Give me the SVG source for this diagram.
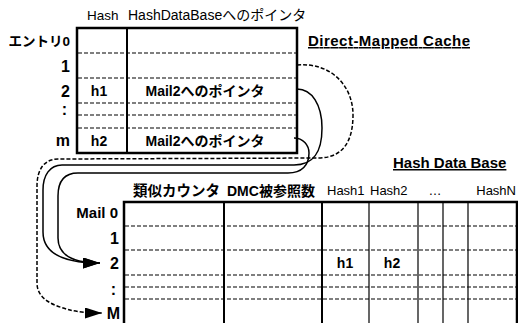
<svg xmlns="http://www.w3.org/2000/svg" width="518" height="323" viewBox="0 0 518 323">
<defs>
<style>
text{font-family:"Liberation Sans","Noto Sans CJK JP",sans-serif;fill:#000}
.b{font-weight:bold}
.hd{font-size:13px}
.lab{font-size:16px;font-weight:bold;text-anchor:end}
.cell{font-size:14px;font-weight:bold;text-anchor:middle}
.thick{stroke:#000;stroke-width:2.5;fill:none}
.col{stroke:#000;stroke-width:2;fill:none}
.thin{stroke:#000;stroke-width:1.2;fill:none}
.dash{stroke:#000;stroke-width:1.2;stroke-dasharray:4 2;fill:none}
.conn{stroke:#000;stroke-width:1.5;fill:none}
.cdash{stroke:#000;stroke-width:1.5;fill:none;stroke-dasharray:4 2}
.title{font-size:15px;font-weight:bold;text-decoration:underline}
</style>
<marker id="arr" markerUnits="userSpaceOnUse" markerWidth="18" markerHeight="11" refX="17" refY="5.5" orient="auto">
<path d="M0,0 L17,5.5 L0,11 z" fill="#000"/>
</marker>
</defs>
<rect width="518" height="323" fill="#fff"/>

<g id="dmc">
<text x="87" y="20" font-size="13.5">Hash</text>
<text x="128" y="20" font-size="14">HashDataBaseへのポインタ</text>
<text class="title" x="308" y="46" textLength="162">Direct-Mapped Cache</text>
<rect class="thick" x="77" y="28" width="220" height="125"/>
<line class="col" x1="127" y1="28" x2="127" y2="153"/>
<line class="dash" x1="78" y1="53" x2="296" y2="53"/>
<line class="dash" x1="78" y1="78" x2="296" y2="78"/>
<line class="dash" x1="78" y1="103" x2="296" y2="103"/>
<line class="dash" x1="78" y1="115" x2="296" y2="115"/>
<line class="dash" x1="78" y1="128" x2="296" y2="128"/>
<text x="70" y="46" font-size="13.5" class="b" text-anchor="end">エントリ0</text>
<text class="lab" x="70" y="72">1</text>
<text class="lab" x="70" y="97">2</text>
<text class="lab" x="67" y="115">:</text>
<text class="lab" x="70" y="146">m</text>
<text class="cell" x="99" y="96">h1</text>
<text class="cell" x="205" y="96">Mail2へのポインタ</text>
<text class="cell" x="99" y="146">h2</text>
<text class="cell" x="205" y="146">Mail2へのポインタ</text>
</g>

<g id="hdb">
<text class="title" x="393" y="168">Hash Data Base</text>
<text x="133" y="196" font-size="14.5" class="b">類似カウンタ</text>
<text x="227" y="196" font-size="14" class="b">DMC被参照数</text>
<text class="hd" x="327" y="195">Hash1</text>
<text class="hd" x="370" y="195">Hash2</text>
<text class="hd" x="435" y="195" text-anchor="middle">…</text>
<text class="hd" x="516" y="195" text-anchor="end">HashN</text>
<path class="thick" d="M124 323 L124 202 L517 202 L517 323"/>
<line class="col" x1="224" y1="202" x2="224" y2="323"/>
<line class="col" x1="322" y1="202" x2="322" y2="323"/>
<line class="thin" x1="369" y1="202" x2="369" y2="323"/>
<line class="thin" x1="418" y1="202" x2="418" y2="323"/>
<line class="thin" x1="443" y1="202" x2="443" y2="323"/>
<line class="thin" x1="468" y1="202" x2="468" y2="323"/>
<line class="dash" x1="125" y1="226" x2="516" y2="226"/>
<line class="dash" x1="125" y1="250" x2="516" y2="250"/>
<line class="dash" x1="125" y1="275" x2="516" y2="275"/>
<line class="dash" x1="125" y1="287" x2="516" y2="287"/>
<line class="dash" x1="125" y1="299" x2="516" y2="299"/>
<text x="118" y="218" font-size="15" class="b" text-anchor="end">Mail 0</text>
<text class="lab" x="119" y="244">1</text>
<text class="lab" x="119" y="269">2</text>
<text class="lab" x="116" y="295">:</text>
<text class="lab" x="120" y="319">M</text>
<text class="cell" x="345" y="268">h1</text>
<text class="cell" x="392" y="268">h2</text>
</g>

<g id="connectors">
<path class="cdash" marker-end="url(#arr)" d="M297 65 C330 62, 353 85, 353 115 C353 145, 340 158, 318 158 L58 159 C44 159, 37 170, 37 186 L37 283 C37 300, 55 306, 70 310 C78 312, 90 313, 102 313"/>
<path class="conn" marker-end="url(#arr)" d="M297 89 C312 89, 322 105, 322 128 C322 152, 314 165, 294 165 L62 165 C50 165, 43 175, 43 190 L43 232 C43 252, 62 263, 100 263"/>
<path class="conn" marker-end="url(#arr)" d="M294 138 C303 138, 309 145, 309 153 C309 165, 302 173, 288 173 L78 173 C65 173, 58 181, 58 196 L58 238 C58 255, 72 263, 100 263"/>
</g>
</svg>
